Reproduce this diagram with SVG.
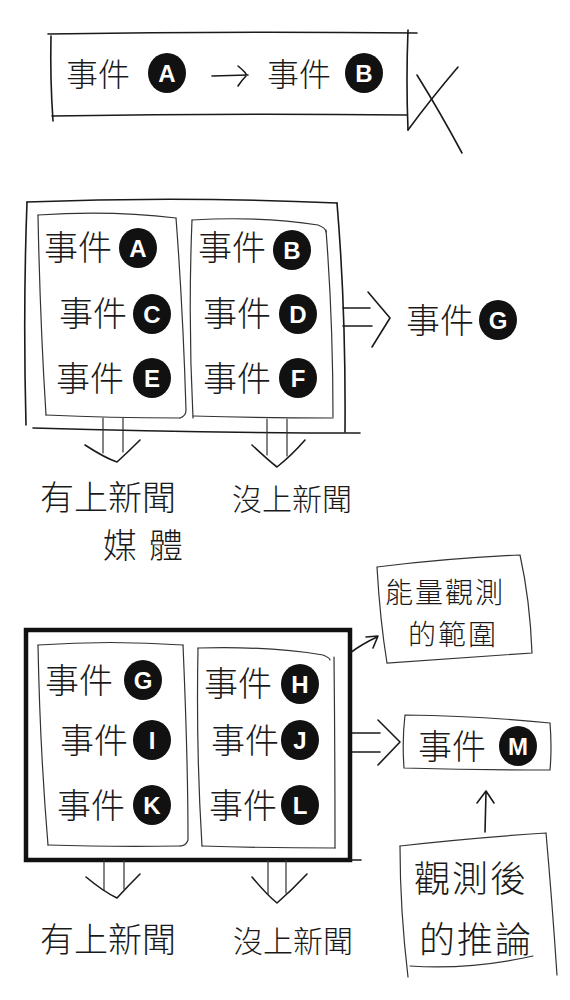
<svg xmlns="http://www.w3.org/2000/svg" width="570" height="1000" viewBox="0 0 570 1000">
<style>
.ln{fill:none;stroke:#1a1a1a;stroke-width:1.6;stroke-linecap:round;stroke-linejoin:round}
.thin{fill:none;stroke:#333;stroke-width:1.2;stroke-linecap:round}
.thick{fill:none;stroke:#111;stroke-width:4.5}
.t{font-family:"Noto Sans CJK TC","Noto Sans CJK SC",sans-serif;font-weight:300;fill:#1a1a1a}
.ev{font-size:34px}
.lab{font-size:34px}
.dot{fill:#111}
.let{font-family:"Liberation Sans",Arial,sans-serif;font-weight:bold;font-size:24px;fill:#fff;text-anchor:middle}
</style>
<rect width="570" height="1000" fill="#fff"/>

<g id="top-box">
<path class="ln" d="M48,34 Q230,31 417,33"/>
<path class="ln" d="M52,116 Q230,113 407,115"/>
<path class="ln" d="M51,36 Q50,78 53,121"/>
<path class="ln" d="M408,30 Q406,80 408,130"/>
<text class="t ev" x="66" y="86" style="font-size:32px">事件</text>
<ellipse class="dot" cx="167" cy="73" rx="19" ry="20"/><text class="let" x="167" y="82">A</text>
<path class="ln" d="M212,76 L248,75 M238,66 Q248,74 246,76 Q242,80 238,86"/>
<text class="t ev" x="267" y="86" style="font-size:32px">事件</text>
<ellipse class="dot" cx="364" cy="73" rx="19" ry="20"/><text class="let" x="364" y="82">B</text>
</g>

<g id="cross">
<path class="ln" d="M408,130 Q430,100 458,67"/>
<path class="ln" d="M417,75 Q440,112 462,153"/>
</g>

<g id="mid-outer">
<path class="ln" d="M27,202 Q180,196 337,203"/>
<path class="ln" d="M27,202 Q23,310 26,425"/>
<path class="ln" d="M337,203 Q346,310 345,432"/>
<path class="ln" d="M33,428 Q200,433 360,433"/>
</g>

<g id="mid-left">
<path class="thin" d="M38,215 Q110,210 176,218"/>
<path class="thin" d="M38,215 Q40,320 46,415"/>
<path class="thin" d="M176,218 Q183,310 186,410 Q186,416 180,418"/>
<path class="thin" d="M46,415 Q110,418 180,418"/>
<text class="t ev" x="44" y="260">事件</text>
<ellipse class="dot" cx="138" cy="248" rx="19" ry="20"/><text class="let" x="138" y="257">A</text>
<text class="t ev" x="59" y="326">事件</text>
<ellipse class="dot" cx="152" cy="314" rx="19" ry="20"/><text class="let" x="152" y="323">C</text>
<text class="t ev" x="56" y="391">事件</text>
<ellipse class="dot" cx="152" cy="378" rx="19" ry="20"/><text class="let" x="152" y="387">E</text>
</g>

<g id="mid-right">
<path class="thin" d="M192,220 Q260,216 318,225 Q326,228 326,232"/>
<path class="thin" d="M192,220 Q188,320 193,418"/>
<path class="thin" d="M326,230 Q333,320 333,417"/>
<path class="thin" d="M193,416 Q260,418 333,418"/>
<text class="t ev" x="198" y="260">事件</text>
<ellipse class="dot" cx="292" cy="250" rx="19" ry="20"/><text class="let" x="292" y="259">B</text>
<text class="t ev" x="203" y="326">事件</text>
<ellipse class="dot" cx="298" cy="314" rx="19" ry="20"/><text class="let" x="298" y="323">D</text>
<text class="t ev" x="203" y="391">事件</text>
<ellipse class="dot" cx="298" cy="378" rx="19" ry="20"/><text class="let" x="298" y="387">F</text>
</g>

<g id="event-g">
<text class="t ev" x="406" y="333">事件</text>
<ellipse class="dot" cx="498" cy="320" rx="19" ry="20"/><text class="let" x="498" y="329">G</text>
</g>

<g id="mid-labels">
<text class="t lab" x="40" y="510">有上新聞</text>
<text class="t lab" x="103" y="558" style="letter-spacing:12px">媒體</text>
<text class="t lab" x="232" y="510" style="font-size:30px">沒上新聞</text>
</g>

<g id="bot-outer">
<path class="thick" d="M26,630 L350,630 L350,860 L26,860 Z"/>
<path class="ln" d="M350,860 L361,860"/>
</g>

<g id="bot-left">
<path class="thin" d="M38,645 Q110,640 183,645"/>
<path class="thin" d="M38,645 Q40,750 48,845"/>
<path class="thin" d="M183,645 Q188,760 188,840 Q186,846 180,846"/>
<path class="thin" d="M48,845 Q110,847 180,846"/>
<text class="t ev" x="45" y="693">事件</text>
<ellipse class="dot" cx="143" cy="680" rx="19" ry="20"/><text class="let" x="143" y="689">G</text>
<text class="t ev" x="60" y="753">事件</text>
<ellipse class="dot" cx="152" cy="740" rx="19" ry="20"/><text class="let" x="152" y="749">I</text>
<text class="t ev" x="57" y="818">事件</text>
<ellipse class="dot" cx="152" cy="805" rx="19" ry="20"/><text class="let" x="152" y="814">K</text>
</g>

<g id="bot-right">
<path class="thin" d="M198,648 Q270,646 323,655 Q330,658 330,660"/>
<path class="thin" d="M198,648 Q196,750 202,846"/>
<path class="thin" d="M334,657 Q335,750 335,848"/>
<path class="thin" d="M202,846 Q270,848 335,848"/>
<text class="t ev" x="204" y="696">事件</text>
<ellipse class="dot" cx="300" cy="684" rx="19" ry="20"/><text class="let" x="300" y="693">H</text>
<text class="t ev" x="211" y="753">事件</text>
<ellipse class="dot" cx="300" cy="740" rx="19" ry="20"/><text class="let" x="300" y="749">J</text>
<text class="t ev" x="209" y="818">事件</text>
<ellipse class="dot" cx="300" cy="805" rx="19" ry="20"/><text class="let" x="300" y="814">L</text>
</g>

<g id="range-box">
<path class="thin" d="M377,567 Q450,558 520,555 Q530,600 532,653 Q460,658 387,663 Q380,620 377,567 Z"/>
<text class="t lab" x="385" y="603" style="font-size:28px;letter-spacing:2px">能量觀測</text>
<text class="t lab" x="408" y="645" style="font-size:28px;letter-spacing:2px">的範圍</text>
</g>

<g id="event-m">
<path class="thin" d="M405,715 Q480,716 550,723 Q552,748 550,770 Q480,770 404,768 Q402,740 405,715 Z"/>
<text class="t ev" x="418" y="759">事件</text>
<ellipse class="dot" cx="518" cy="746" rx="19" ry="20"/><text class="let" x="518" y="755">M</text>
</g>

<g id="infer-box">
<path class="thin" d="M400,846 Q470,838 546,833 Q552,900 557,975"/>
<path class="thin" d="M400,846 Q400,910 408,977"/>
<path class="thin" d="M410,966 Q470,970 533,956"/>
<text class="t lab" x="414" y="892" style="font-size:36px;letter-spacing:2px">觀測後</text>
<text class="t lab" x="419" y="953" style="font-size:36px;letter-spacing:2px">的推論</text>
</g>

<g id="bot-labels">
<text class="t lab" x="40" y="952">有上新聞</text>
<text class="t lab" x="233" y="952" style="font-size:30px">沒上新聞</text>
</g>

<g id="connectors">
<path class="ln" d="M343,308 L370,308 M343,326 L372,326 M368,292 L390,318 L372,347"/>
<path class="thin" d="M103,418 L103,453 M123,418 L123,452"/>
<path class="ln" d="M85,445 Q105,458 117,462 Q128,452 140,440"/>
<path class="thin" d="M267,419 L267,455 M287,419 L287,456"/>
<path class="ln" d="M252,445 Q268,460 277,467 Q292,455 305,440"/>
<path class="ln" d="M352,733 L380,733 M352,752 L380,752 M378,720 L400,742 L378,765"/>
<path class="ln" d="M350,653 Q362,644 377,637 M366,637 L378,636 L373,648"/>
<path class="thin" d="M104,860 L104,890 M124,860 L124,889"/>
<path class="ln" d="M86,877 Q104,892 117,898 Q128,886 140,874"/>
<path class="thin" d="M268,860 L268,894 M286,860 L286,893"/>
<path class="ln" d="M252,877 Q267,895 277,903 Q292,890 307,874"/>
<path class="ln" d="M485,832 L486,792 M477,803 L486,791 L494,803"/>
</g>
</svg>
